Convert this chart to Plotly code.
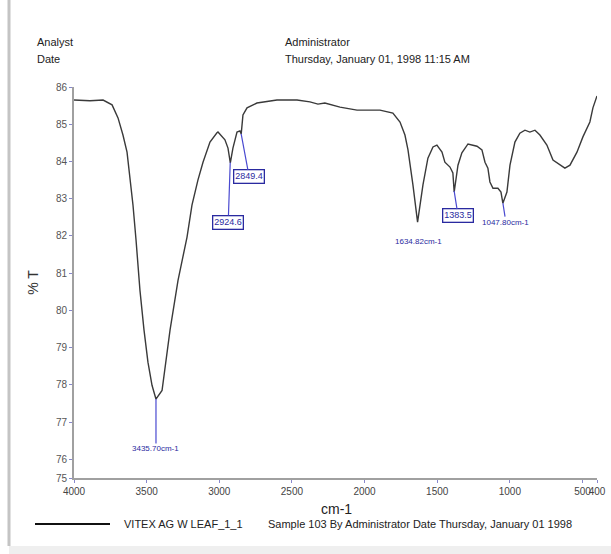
import numpy as np
import plotly.graph_objects as go

# ---- data ----
wavenumber = [4000, 3890, 3800, 3738, 3697, 3663, 3635, 3615, 3594, 3573, 3546, 3518, 3491, 3463, 3436,
              3394, 3339, 3284, 3222, 3188, 3147, 3112, 3064, 3016, 3009, 2961, 2940, 2924, 2906,
              2878, 2858, 2849, 2837, 2809, 2741, 2603, 2465, 2376, 2321, 2273, 2169, 2052, 1894,
              1805, 1756, 1722, 1701, 1667, 1635, 1598, 1564, 1529, 1502, 1467, 1447, 1412, 1392,
              1383, 1357, 1330, 1309, 1288, 1226, 1192, 1171, 1151, 1137, 1116, 1082, 1061, 1048,
              1020, 999, 965, 931, 896, 862, 827, 793, 745, 703, 655, 621, 586, 538, 497, 449, 428, 400]
transmittance = [85.65, 85.63, 85.65, 85.52, 85.17, 84.71, 84.25, 83.63, 82.83, 81.89, 80.54, 79.47, 78.61, 77.99, 77.62,
                 77.85, 79.47, 80.81, 81.97, 82.83, 83.50, 83.98, 84.52, 84.77, 84.79, 84.58, 84.36, 83.96, 84.36,
                 84.79, 84.82, 84.74, 85.25, 85.44, 85.57, 85.65, 85.65, 85.60, 85.54, 85.57, 85.46, 85.38, 85.38,
                 85.30, 85.06, 84.71, 84.31, 83.37, 82.37, 83.37, 84.09, 84.39, 84.44, 84.25, 83.98, 83.85, 83.69,
                 83.18, 83.90, 84.23, 84.36, 84.47, 84.41, 84.31, 83.98, 83.82, 83.45, 83.28, 83.28, 83.18, 82.88,
                 83.18, 83.90, 84.52, 84.76, 84.84, 84.79, 84.84, 84.71, 84.44, 84.04, 83.90, 83.82, 83.90, 84.25,
                 84.66, 85.06, 85.44, 85.76]

peak_wn = [3435.70, 2924.6, 2849.4, 1634.82, 1383.5, 1047.80]
peak_text = ["3435.70cm-1", "2924.6", "2849.4", "1634.82cm-1", "1383.5", "1047.80cm-1"]
peak_boxed = [False, True, True, False, True, False]
peak_offset = [(0, 50), (-2, 60), (8, 43), (1, 20), (4, 25), (3, 19)]

x_ticks = [4000, 3500, 3000, 2500, 2000, 1500, 1000, 500, 400]
x_ticktext = ["4000", "3500", "3000", "2500", "2000", "1500", "1000", "500", "400"]
y_ticks = [75.5, 76, 77, 78, 79, 80, 81, 82, 83, 84, 85, 86]
y_ticktext = ["75", "76", "77", "78", "79", "80", "81", "82", "83", "84", "85", "86"]

# ---- layout geometry ----
W, H = 611, 554
L, R, T, B = 74, 14, 87, 76
pw, ph = W - L - R, H - T - B


def px(x):
    return (x - L) / pw


def py(y):
    return (H - B - y) / ph


FONT = "Liberation Sans Narrow, Arial Narrow, Liberation Sans, Arial, sans-serif"

fig = go.Figure()
fig.add_trace(go.Scatter(x=wavenumber, y=transmittance, mode="lines",
                         line=dict(color="#3a3a3a", width=1.4), showlegend=False,
                         hoverinfo="x+y"))

wn_sorted = np.array(wavenumber[::-1], dtype=float)
t_sorted = np.array(transmittance[::-1], dtype=float)
for wn, txt, boxed, (ax, ay) in zip(peak_wn, peak_text, peak_boxed, peak_offset):
    ty = float(np.interp(wn, wn_sorted, t_sorted))
    fig.add_annotation(
        x=wn, y=ty, xref="x", yref="y", text=txt, showarrow=True,
        arrowhead=0, arrowwidth=1.2, arrowcolor="#4a4ad0", ax=ax, ay=ay,
        standoff=0,
        font=dict(family=FONT, size=9 if boxed else 8, color="#2a2aa0"),
        bordercolor="#2a2aa0" if boxed else None, borderwidth=1.3 if boxed else 0,
        borderpad=1, bgcolor="white" if boxed else None,
    )

# header texts
hdr = dict(family=FONT, size=11, color="#222")
for xpix, ypix, txt in [(35, 42, "Analyst"), (35, 59, "Date"),
                        (283, 42, "Administrator"), (283, 59, "Thursday, January 01, 1998 11:15 AM")]:
    fig.add_annotation(x=px(xpix), y=py(ypix), xref="paper", yref="paper", text=txt,
                       showarrow=False, xanchor="left", yanchor="middle", font=hdr)

# x-axis title
fig.add_annotation(x=px(336), y=py(509), xref="paper", yref="paper", text="cm-1",
                   showarrow=False, xanchor="center", yanchor="middle",
                   font=dict(family=FONT, size=14, color="#222"))

# legend line and text
fig.add_shape(type="line", xref="paper", yref="paper", x0=px(35), x1=px(110), y0=py(524), y1=py(524),
              line=dict(color="#111", width=2))
fig.add_annotation(x=px(122), y=py(524), xref="paper", yref="paper", text="VITEX AG W LEAF_1_1",
                   showarrow=False, xanchor="left", yanchor="middle",
                   font=dict(family=FONT, size=11, color="#222"))
fig.add_annotation(x=px(266), y=py(524), xref="paper", yref="paper",
                   text="Sample 103 By Administrator Date Thursday, January 01 1998",
                   showarrow=False, xanchor="left", yanchor="middle",
                   font=dict(family=FONT, size=11, color="#222"))

# page shadow edges
fig.add_shape(type="line", xref="paper", yref="paper", x0=px(9), x1=px(9), y0=py(0), y1=py(546),
              line=dict(color="#c4c4c4", width=3))
fig.add_shape(type="rect", xref="paper", yref="paper", x0=px(9), x1=px(611), y0=py(554), y1=py(546),
              line=dict(width=0), fillcolor="#efefef")

fig.update_layout(
    width=W, height=H,
    margin=dict(l=L, r=R, t=T, b=B, pad=0),
    paper_bgcolor="white", plot_bgcolor="white",
    font=dict(family=FONT, size=10, color="#444"),
    xaxis=dict(range=[4000, 400], tickmode="array", tickvals=x_ticks, ticktext=x_ticktext,
               tickangle=0, automargin=False,
               showgrid=False, zeroline=False, showline=True, linecolor="#a0a0a0", linewidth=2,
               ticks="outside", ticklen=3, tickcolor="#8888cc",
               tickfont=dict(family=FONT, size=10, color="#444")),
    yaxis=dict(range=[75.5, 86], tickmode="array", tickvals=y_ticks, ticktext=y_ticktext,
               automargin=False,
               showgrid=False, zeroline=False, showline=True, linecolor="#a0a0a0", linewidth=2,
               ticks="outside", ticklen=3, tickcolor="#8888cc",
               tickfont=dict(family=FONT, size=10, color="#555"),
               title=dict(text="% T", font=dict(family=FONT, size=14, color="#333"), standoff=14)),
)

fig.write_html("out.html")
